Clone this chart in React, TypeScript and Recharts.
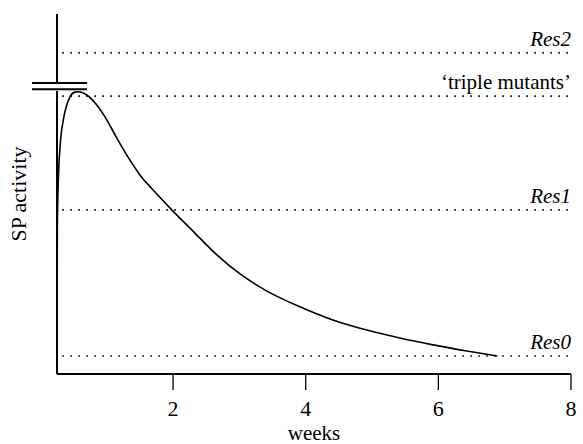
import React from 'react';
import { LineChart, Line, XAxis, YAxis, ReferenceLine } from 'recharts';

// curve (weeks, arbitrary activity units 0..100)
const weeks = [
  0.25, 0.255, 0.27, 0.296, 0.345, 0.397, 0.446, 0.522, 0.572, 0.7, 0.85, 1.0, 1.15, 1.35, 1.5, 1.7,
  1.98, 2.3, 2.66, 3.01, 3.41, 3.92, 4.41, 4.92, 5.42, 5.92, 6.43, 6.89,
];
const activity = [
  5, 40.6, 53.9, 63.1, 70.6, 74.7, 77.0, 78.3, 78.4, 77.5, 74.7, 70.6, 65.6, 59.4, 55.3, 51.1,
  45.6, 39.7, 33.1, 27.8, 23.1, 18.6, 15.0, 12.2, 10.0, 8.1, 6.4, 5,
];

const xTicks = [2, 4, 6, 8];
const levelNames = ['Res2', '\u2018triple mutants\u2019', 'Res1', 'Res0'];
const levelValues = [89.2, 77.2, 45.6, 5];
const levelItalic = [true, false, true, true];

const X_MIN = 0.25;
const X_MAX = 8;
const DOTS_FROM = 0.33;
const BREAK_LOW = 79.1;
const BREAK_HIGH = 80.8;
const BREAK_X = [-0.127, 0.703];

const FONT = "'Liberation Serif', 'Times New Roman', serif";
const textStyle = { fontFamily: FONT, fontSize: 21 };
const bigText = { fontFamily: FONT, fontSize: 22 };

const data = weeks.map((w, i) => ({ week: w, activity: activity[i] }));

const RefLabel = (props: any) => {
  const { viewBox, text, italic } = props;
  if (!viewBox) return null;
  return (
    <text
      x={viewBox.x + viewBox.width}
      y={viewBox.y - 7}
      textAnchor="end"
      fill="#000"
      style={{ ...textStyle, fontStyle: italic ? 'italic' : 'normal' }}
    >
      {text}
    </text>
  );
};

export default function App() {
  return (
    <div style={{ position: 'absolute', left: 0, top: 0, background: '#fff', fontFamily: FONT }}>
      <LineChart
        width={583}
        height={444}
        data={data}
        margin={{ top: 14, right: 12, bottom: 0, left: 0 }}
        style={{ fontFamily: FONT }}
      >
        <XAxis
          type="number"
          dataKey="week"
          domain={[X_MIN, X_MAX]}
          ticks={xTicks}
          allowDataOverflow
          height={70}
          tickSize={16}
          tickMargin={10}
          axisLine={{ stroke: '#000', strokeWidth: 1.8 }}
          tickLine={{ stroke: '#000', strokeWidth: 1.3 }}
          tick={{ fill: '#000', style: bigText }}
          label={{
            value: 'weeks',
            position: 'insideBottom',
            offset: 4,
            fill: '#000',
            style: textStyle,
          }}
        />
        <YAxis
          type="number"
          domain={[0, 100]}
          width={57}
          axisLine={false}
          tickLine={false}
          tick={false}
          label={{
            value: 'SP activity',
            angle: -90,
            position: 'insideLeft',
            offset: 18,
            fill: '#000',
            style: { ...bigText, textAnchor: 'middle' },
          }}
        />
        {levelValues.map((v, i) => (
          <ReferenceLine
            key={levelNames[i]}
            segment={[
              { x: DOTS_FROM, y: v },
              { x: X_MAX, y: v },
            ]}
            stroke="#000"
            strokeWidth={1.6}
            strokeDasharray="1.6 6.4"
            label={<RefLabel text={levelNames[i]} italic={levelItalic[i]} />}
          />
        ))}
        {/* y axis drawn in two pieces around the break */}
        <ReferenceLine
          segment={[
            { x: X_MIN, y: 0 },
            { x: X_MIN, y: BREAK_LOW - 0.5 },
          ]}
          stroke="#000"
          strokeWidth={2}
          ifOverflow="visible"
        />
        <ReferenceLine
          segment={[
            { x: X_MIN, y: BREAK_HIGH },
            { x: X_MIN, y: 100 },
          ]}
          stroke="#000"
          strokeWidth={2}
          ifOverflow="visible"
        />
        {[BREAK_LOW, BREAK_HIGH].map((b) => (
          <ReferenceLine
            key={b}
            segment={[
              { x: BREAK_X[0], y: b },
              { x: BREAK_X[1], y: b },
            ]}
            stroke="#000"
            strokeWidth={2}
            ifOverflow="visible"
          />
        ))}
        <Line
          type="monotone"
          dataKey="activity"
          stroke="#000"
          strokeWidth={1.6}
          dot={false}
          isAnimationActive={false}
        />
      </LineChart>
    </div>
  );
}
